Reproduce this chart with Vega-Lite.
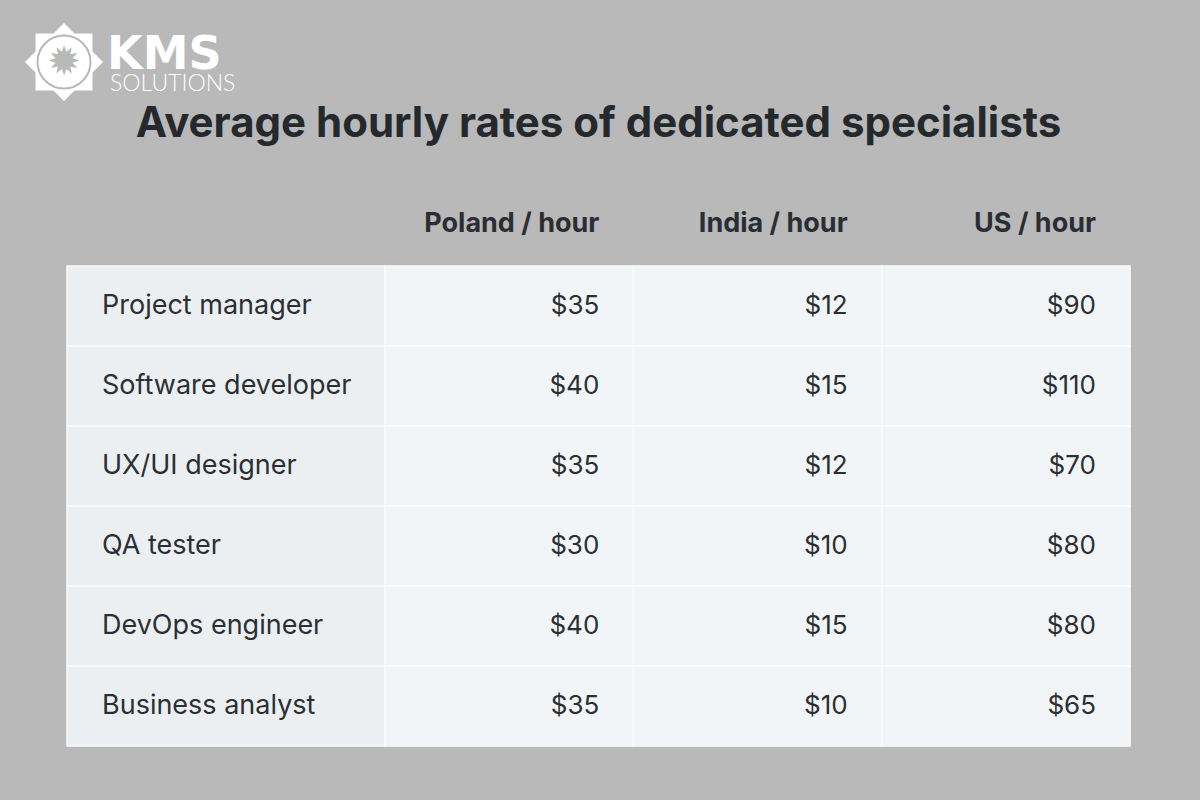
{
  "$schema": "https://vega.github.io/schema/vega-lite/v6.json",
  "width": 1063,
  "height": 560,
  "autosize": {"type": "none"},
  "padding": {"left": 67, "top": 186, "right": 70, "bottom": 54},
  "background": "#b9b9b9",
  "config": {"view": {"stroke": null}},
  "title": {
    "text": "Average hourly rates of dedicated specialists",
    "font": "Inter",
    "fontSize": 42,
    "fontWeight": "bold",
    "color": "#24292d",
    "anchor": "middle",
    "offset": -123
  },
  "datasets": {
    "roles": [
      {"role": "Project manager"},
      {"role": "Software developer"},
      {"role": "UX/UI designer"},
      {"role": "QA tester"},
      {"role": "DevOps engineer"},
      {"role": "Business analyst"}
    ],
    "rates": [
      {"role": "Project manager", "country": "Poland / hour", "rate": 35},
      {"role": "Project manager", "country": "India / hour", "rate": 12},
      {"role": "Project manager", "country": "US / hour", "rate": 90},
      {"role": "Software developer", "country": "Poland / hour", "rate": 40},
      {"role": "Software developer", "country": "India / hour", "rate": 15},
      {"role": "Software developer", "country": "US / hour", "rate": 110},
      {"role": "UX/UI designer", "country": "Poland / hour", "rate": 35},
      {"role": "UX/UI designer", "country": "India / hour", "rate": 12},
      {"role": "UX/UI designer", "country": "US / hour", "rate": 70},
      {"role": "QA tester", "country": "Poland / hour", "rate": 30},
      {"role": "QA tester", "country": "India / hour", "rate": 10},
      {"role": "QA tester", "country": "US / hour", "rate": 80},
      {"role": "DevOps engineer", "country": "Poland / hour", "rate": 40},
      {"role": "DevOps engineer", "country": "India / hour", "rate": 15},
      {"role": "DevOps engineer", "country": "US / hour", "rate": 80},
      {"role": "Business analyst", "country": "Poland / hour", "rate": 35},
      {"role": "Business analyst", "country": "India / hour", "rate": 10},
      {"role": "Business analyst", "country": "US / hour", "rate": 65}
    ],
    "headers": [
      {"country": "Poland / hour"},
      {"country": "India / hour"},
      {"country": "US / hour"}
    ],
    "logo": [{"brand": "KMS", "sub": "SOLUTIONS"}]
  },
  "layer": [
    {
      "encoding": {
        "x": {
          "datum": "Role",
          "type": "nominal",
          "scale": {"type": "band", "domain": ["Role"], "range": [0, 318], "paddingInner": 0, "paddingOuter": 0},
          "axis": null
        },
        "y": {
          "field": "role",
          "type": "nominal",
          "scale": {
            "type": "band",
            "domain": ["header", "Project manager", "Software developer", "UX/UI designer", "QA tester", "DevOps engineer", "Business analyst"],
            "paddingInner": 0,
            "paddingOuter": 0
          },
          "axis": null
        }
      },
      "layer": [
        {
          "data": {"name": "roles"},
          "mark": {"type": "rect", "fill": "#eceff2", "stroke": "#fafbfc", "strokeWidth": 1.5}
        },
        {
          "data": {"name": "roles"},
          "mark": {"type": "text", "align": "left", "baseline": "middle", "dx": 35, "font": "Inter", "fontSize": 27, "color": "#2b2f33"},
          "encoding": {
            "x": {"datum": "Role", "type": "nominal", "bandPosition": 0},
            "text": {"field": "role"}
          }
        },
        {
          "data": {"name": "logo"},
          "mark": {"type": "point", "shape": "diamond", "filled": true, "fill": "#ffffff", "opacity": 1, "size": 6084, "xOffset": -3, "yOffset": -164, "strokeWidth": 0},
          "encoding": {
            "x": {"datum": "Role", "type": "nominal", "bandPosition": 0},
            "y": {"datum": "header", "type": "nominal"}
          }
        },
        {
          "data": {"name": "logo"},
          "mark": {"type": "point", "shape": "square", "filled": true, "fill": "#ffffff", "opacity": 1, "size": 3249, "xOffset": -3, "yOffset": -164, "strokeWidth": 0},
          "encoding": {
            "x": {"datum": "Role", "type": "nominal", "bandPosition": 0},
            "y": {"datum": "header", "type": "nominal"}
          }
        },
        {
          "data": {"name": "logo"},
          "mark": {"type": "point", "shape": "circle", "filled": false, "stroke": "#b9b9b9", "opacity": 1, "size": 2809, "strokeWidth": 2, "xOffset": -3, "yOffset": -164},
          "encoding": {
            "x": {"datum": "Role", "type": "nominal", "bandPosition": 0},
            "y": {"datum": "header", "type": "nominal"}
          }
        },
        {
          "data": {"name": "logo"},
          "mark": {"type": "text", "text": "✹", "font": "DejaVu Sans", "fontSize": 40, "color": "#b9b9b9", "align": "center", "baseline": "middle", "xOffset": -3, "yOffset": -163},
          "encoding": {
            "x": {"datum": "Role", "type": "nominal", "bandPosition": 0},
            "y": {"datum": "header", "type": "nominal"}
          }
        },
        {
          "data": {"name": "logo"},
          "mark": {"type": "text", "align": "left", "baseline": "alphabetic", "font": "DejaVu Sans", "fontSize": 46, "fontWeight": "bold", "color": "#ffffff", "xOffset": 40, "yOffset": -157},
          "encoding": {
            "x": {"datum": "Role", "type": "nominal", "bandPosition": 0},
            "y": {"datum": "header", "type": "nominal"},
            "text": {"field": "brand"}
          }
        },
        {
          "data": {"name": "logo"},
          "mark": {"type": "text", "align": "left", "baseline": "alphabetic", "font": "Lato", "fontSize": 23, "fontWeight": 300, "color": "#ffffff", "xOffset": 43, "yOffset": -135},
          "encoding": {
            "x": {"datum": "Role", "type": "nominal", "bandPosition": 0},
            "y": {"datum": "header", "type": "nominal"},
            "text": {"field": "sub"}
          }
        }
      ]
    },
    {
      "encoding": {
        "x": {
          "field": "country",
          "type": "nominal",
          "scale": {"type": "band", "domain": ["Poland / hour", "India / hour", "US / hour"], "range": [318, 1063], "paddingInner": 0, "paddingOuter": 0},
          "axis": null
        },
        "y": {"field": "role", "type": "nominal"}
      },
      "layer": [
        {
          "data": {"name": "rates"},
          "mark": {"type": "rect", "fill": "#f2f5f8", "stroke": "#fafbfc", "strokeWidth": 1.5}
        },
        {
          "data": {"name": "rates"},
          "mark": {"type": "text", "align": "right", "baseline": "middle", "dx": -34, "font": "Inter", "fontSize": 26, "color": "#2b2f33"},
          "encoding": {
            "x": {"field": "country", "type": "nominal", "bandPosition": 1},
            "text": {"field": "rate", "type": "quantitative", "format": "$.0f"}
          }
        },
        {
          "data": {"name": "headers"},
          "mark": {"type": "text", "align": "right", "baseline": "middle", "dx": -34, "dy": -2, "font": "Inter", "fontSize": 27, "fontWeight": "bold", "color": "#2a2e33"},
          "encoding": {
            "x": {"field": "country", "type": "nominal", "bandPosition": 1},
            "y": {"datum": "header", "type": "nominal"},
            "text": {"field": "country"}
          }
        }
      ]
    }
  ],
  "resolve": {"scale": {"x": "independent"}}
}
